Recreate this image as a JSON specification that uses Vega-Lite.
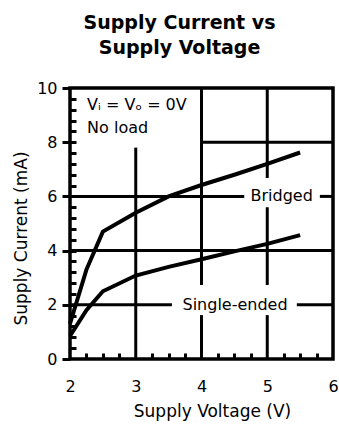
{
  "$schema": "https://vega.github.io/schema/vega-lite/v6.json",
  "width": 263,
  "height": 271,
  "autosize": {"type": "none"},
  "padding": {"left": 70, "top": 88, "right": 6, "bottom": 69},
  "title": {
    "text": ["Supply Current vs", "Supply Voltage"],
    "font": "DejaVu Sans",
    "fontSize": 19,
    "fontWeight": "bold",
    "color": "black",
    "lineHeight": 25,
    "anchor": "middle",
    "frame": "group",
    "dx": -22,
    "offset": 22
  },
  "config": {
    "view": {"stroke": "black", "strokeWidth": 3.5},
    "axis": {
      "domain": false,
      "grid": false,
      "labelFont": "DejaVu Sans",
      "labelFontSize": 16,
      "labelColor": "black",
      "labelFlush": false,
      "titleFont": "DejaVu Sans",
      "titleFontSize": 17,
      "titleFontWeight": "normal",
      "titleColor": "black",
      "tickColor": "black",
      "tickWidth": 3
    }
  },
  "datasets": {
    "curves": [
      {"series": "Bridged", "v": 2.0, "i": 1.3},
      {"series": "Bridged", "v": 2.25, "i": 3.3},
      {"series": "Bridged", "v": 2.5, "i": 4.7},
      {"series": "Bridged", "v": 3.0, "i": 5.4},
      {"series": "Bridged", "v": 3.5, "i": 6.0},
      {"series": "Bridged", "v": 4.0, "i": 6.42},
      {"series": "Bridged", "v": 4.5, "i": 6.8},
      {"series": "Bridged", "v": 5.0, "i": 7.2},
      {"series": "Bridged", "v": 5.5, "i": 7.62},
      {"series": "Single-ended", "v": 2.0, "i": 0.85},
      {"series": "Single-ended", "v": 2.25, "i": 1.8},
      {"series": "Single-ended", "v": 2.5, "i": 2.5},
      {"series": "Single-ended", "v": 3.0, "i": 3.08},
      {"series": "Single-ended", "v": 3.5, "i": 3.4},
      {"series": "Single-ended", "v": 4.0, "i": 3.68},
      {"series": "Single-ended", "v": 4.5, "i": 3.97},
      {"series": "Single-ended", "v": 5.0, "i": 4.25},
      {"series": "Single-ended", "v": 5.5, "i": 4.57}
    ],
    "grid": [
      {"x": 2, "x2": 3.55, "y": 2, "y2": 2},
      {"x": 5.45, "x2": 6, "y": 2, "y2": 2},
      {"x": 2, "x2": 6, "y": 4, "y2": 4},
      {"x": 2, "x2": 4.65, "y": 6, "y2": 6},
      {"x": 5.8, "x2": 6, "y": 6, "y2": 6},
      {"x": 4, "x2": 6, "y": 8, "y2": 8},
      {"x": 3, "x2": 3, "y": 0, "y2": 7.8},
      {"x": 4, "x2": 4, "y": 0, "y2": 1.62},
      {"x": 4, "x2": 4, "y": 2.73, "y2": 10},
      {"x": 5, "x2": 5, "y": 0, "y2": 1.62},
      {"x": 5, "x2": 5, "y": 2.73, "y2": 5.6},
      {"x": 5, "x2": 5, "y": 6.68, "y2": 10}
    ],
    "curveLabels": [
      {"x": 5.22, "y": 6, "text": "Bridged"},
      {"x": 4.51, "y": 2, "text": "Single-ended"}
    ],
    "conditions": [
      {"x": 2.26, "y": 9.37, "text": "Vᵢ = Vₒ = 0V"},
      {"x": 2.26, "y": 8.52, "text": "No load"}
    ]
  },
  "layer": [
    {
      "data": {"name": "grid"},
      "mark": {"type": "rule", "color": "black", "strokeWidth": 3},
      "encoding": {
        "x": {
          "field": "x", "type": "quantitative",
          "scale": {"domain": [2, 6], "nice": false, "zero": false},
          "axis": {
            "orient": "bottom", "title": null, "labels": false,
            "values": [2.25, 2.5, 2.75, 3.25, 3.5, 3.75, 4.25, 4.5, 4.75, 5.25, 5.5, 5.75],
            "tickSize": -6
          }
        },
        "x2": {"field": "x2"},
        "y": {
          "field": "y", "type": "quantitative",
          "scale": {"domain": [0, 10], "nice": false, "zero": false},
          "axis": {
            "orient": "left", "title": null, "labels": false,
            "values": [0.4, 0.8, 1.2, 1.6, 2, 2.4, 2.8, 3.2, 3.6, 4, 4.4, 4.8, 5.2, 5.6, 6, 6.4, 6.8, 7.2, 7.6, 8, 8.4, 8.8, 9.2, 9.6],
            "tickSize": -6
          }
        },
        "y2": {"field": "y2"}
      }
    },
    {
      "data": {"name": "curves"},
      "mark": {"type": "line", "color": "black", "strokeWidth": 4, "strokeJoin": "miter", "strokeCap": "butt"},
      "encoding": {
        "x": {
          "field": "v", "type": "quantitative",
          "axis": {
            "orient": "bottom", "title": "Supply Voltage (V)",
            "values": [2, 3, 4, 5, 6], "ticks": false,
            "labelPadding": 19, "titlePadding": 9, "titleX": 142
          }
        },
        "y": {
          "field": "i", "type": "quantitative",
          "axis": {
            "orient": "left", "title": "Supply Current (mA)",
            "values": [0, 2, 4, 6, 8, 10], "tickSize": 8,
            "labelPadding": 5, "titlePadding": 6, "titleY": 150
          }
        },
        "detail": {"field": "series"}
      }
    },
    {
      "data": {"name": "curveLabels"},
      "mark": {"type": "text", "font": "DejaVu Sans", "fontSize": 16, "color": "black", "align": "center", "baseline": "middle"},
      "encoding": {
        "x": {"field": "x", "type": "quantitative", "axis": null},
        "y": {"field": "y", "type": "quantitative", "axis": null},
        "text": {"field": "text"}
      }
    },
    {
      "data": {"name": "conditions"},
      "mark": {"type": "text", "font": "DejaVu Sans", "fontSize": 16, "color": "black", "align": "left", "baseline": "middle"},
      "encoding": {
        "x": {"field": "x", "type": "quantitative", "axis": null},
        "y": {"field": "y", "type": "quantitative", "axis": null},
        "text": {"field": "text"}
      }
    }
  ],
  "resolve": {"axis": {"x": "independent", "y": "independent"}}
}
